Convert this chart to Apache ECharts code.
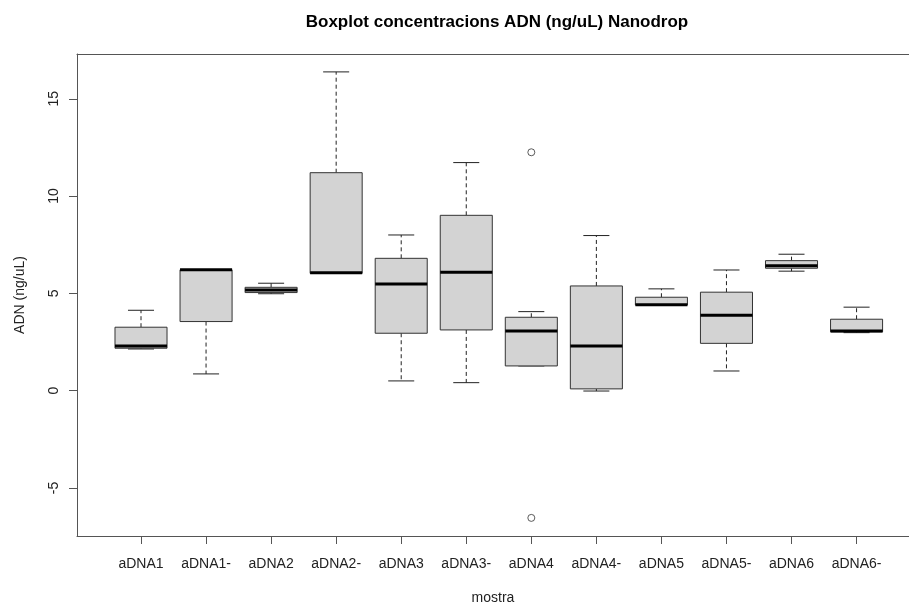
<!DOCTYPE html>
<html>
<head>
<meta charset="utf-8">
<script src="https://cdn.jsdelivr.net/npm/echarts@6/dist/echarts.min.js"></script>
<style>
  html, body { margin: 0; padding: 0; background: #fff; }
  #main { width: 909px; height: 606px; }
</style>
</head>
<body>
<div id="main"></div>
<script>
// categories (mostra)
var categories = ['aDNA1', 'aDNA1-', 'aDNA2', 'aDNA2-', 'aDNA3', 'aDNA3-', 'aDNA4', 'aDNA4-', 'aDNA5', 'aDNA5-', 'aDNA6', 'aDNA6-'];
// five-number summaries
var lowerWhisker = [2.14, 0.86, 4.98, 6.03, 0.50, 0.41, 1.27, -0.02, 4.40, 1.01, 6.14, 2.98];
var q1 = [2.18, 3.55, 5.04, 6.03, 2.95, 3.12, 1.27, 0.09, 4.40, 2.43, 6.29, 3.02];
var median = [2.30, 6.21, 5.17, 6.06, 5.48, 6.08, 3.07, 2.30, 4.42, 3.87, 6.42, 3.07];
var q3 = [3.26, 6.21, 5.31, 11.20, 6.80, 9.01, 3.77, 5.38, 4.80, 5.06, 6.68, 3.67];
var upperWhisker = [4.13, 6.21, 5.52, 16.38, 8.00, 11.72, 4.06, 7.97, 5.23, 6.20, 7.01, 4.29];
// outliers: [category, value]
var outlierCat = ['aDNA4', 'aDNA4'];
var outlierVal = [12.25, -6.54];
var yTicks = [-5, 0, 5, 10, 15];

var boxData = [];
for (var i = 0; i < categories.length; i++) {
    boxData.push([i + 1, lowerWhisker[i], q1[i], median[i], q3[i], upperWhisker[i]]);
}
var outData = [];
for (var j = 0; j < outlierVal.length; j++) {
    outData.push([categories.indexOf(outlierCat[j]) + 1, outlierVal[j]]);
}
var xTicks = [];
for (var k = 0; k < categories.length; k++) { xTicks.push(k + 1); }

var BOXW = 0.8, CAPW = 0.4;
var frameColor = '#555';

function renderBox(params, api) {
    var x = api.value(0);
    var half = api.size([BOXW, 0])[0] / 2;
    var capHalf = api.size([CAPW, 0])[0] / 2;
    var pLo = api.coord([x, api.value(1)]);
    var pQ1 = api.coord([x, api.value(2)]);
    var pMed = api.coord([x, api.value(3)]);
    var pQ3 = api.coord([x, api.value(4)]);
    var pHi = api.coord([x, api.value(5)]);
    var cx = pMed[0];
    var dashed = { stroke: '#222', lineWidth: 1, lineDash: [4, 3] };
    var solid = { stroke: '#222', lineWidth: 1 };
    return {
        type: 'group',
        children: [
            { type: 'line', shape: { x1: cx, y1: pQ3[1], x2: cx, y2: pHi[1] }, style: dashed },
            { type: 'line', shape: { x1: cx, y1: pQ1[1], x2: cx, y2: pLo[1] }, style: dashed },
            { type: 'line', shape: { x1: cx - capHalf, y1: pHi[1], x2: cx + capHalf, y2: pHi[1] }, style: solid },
            { type: 'line', shape: { x1: cx - capHalf, y1: pLo[1], x2: cx + capHalf, y2: pLo[1] }, style: solid },
            { type: 'rect', shape: { x: cx - half, y: pQ3[1], width: half * 2, height: pQ1[1] - pQ3[1] },
              style: { fill: '#d3d3d3', stroke: '#333', lineWidth: 1 } },
            { type: 'line', shape: { x1: cx - half, y1: pMed[1], x2: cx + half, y2: pMed[1] },
              style: { stroke: '#000', lineWidth: 3 } }
        ]
    };
}

var chart = echarts.init(document.getElementById('main'));
var option = {
    animation: false,
    backgroundColor: '#fff',
    textStyle: { fontFamily: 'Liberation Sans, Arial, sans-serif' },
    title: {
        text: 'Boxplot concentracions ADN (ng/uL) Nanodrop',
        left: 492, top: 9, textAlign: 'center',
        textStyle: { fontSize: 17, fontWeight: 'bold', color: '#000', fontFamily: 'Liberation Sans, Arial, sans-serif' }
    },
    // plot frame runs past the right edge of the picture (cropped R device)
    grid: { left: 77, top: 54, right: 0, bottom: 70, outerBoundsMode: 'none', containLabel: false },
    xAxis: [{
        type: 'value', min: 0.016, max: 12.806,
        name: 'mostra', nameLocation: 'middle', nameGap: 55,
        nameTextStyle: { fontSize: 14, color: '#222' },
        axisLine: { show: true, onZero: false, lineStyle: { color: frameColor } },
        splitLine: { show: false },
        axisTick: { show: true, length: 8, customValues: xTicks, lineStyle: { color: frameColor } },
        axisLabel: {
            customValues: xTicks, margin: 21, fontSize: 14, color: '#222',
            formatter: function (v) { return categories[Math.round(v) - 1] || ''; }
        }
    }, {
        type: 'value', min: 0.016, max: 12.806, position: 'top',
        axisLine: { show: true, onZero: false, lineStyle: { color: frameColor } },
        axisTick: { show: false }, axisLabel: { show: false }, splitLine: { show: false }
    }],
    yAxis: {
        type: 'value', min: -7.47, max: 17.30,
        name: 'ADN (ng/uL)', nameLocation: 'middle', nameGap: 50,
        nameTextStyle: { fontSize: 14, color: '#222' },
        axisLine: { show: true, onZero: false, lineStyle: { color: frameColor } },
        splitLine: { show: false },
        axisTick: { show: true, length: 8, customValues: yTicks, lineStyle: { color: frameColor } },
        axisLabel: { customValues: yTicks, rotate: 90, margin: 16, fontSize: 14, color: '#222' }
    },
    series: [
        {
            type: 'custom',
            renderItem: renderBox,
            data: boxData,
            encode: { x: 0, y: [1, 2, 3, 4, 5] },
            clip: false
        },
        {
            type: 'scatter',
            data: outData,
            symbol: 'circle',
            symbolSize: 7,
            itemStyle: { color: '#fff', borderColor: '#333', borderWidth: 1 }
        }
    ]
};
chart.setOption(option);
</script>
</body>
</html>
